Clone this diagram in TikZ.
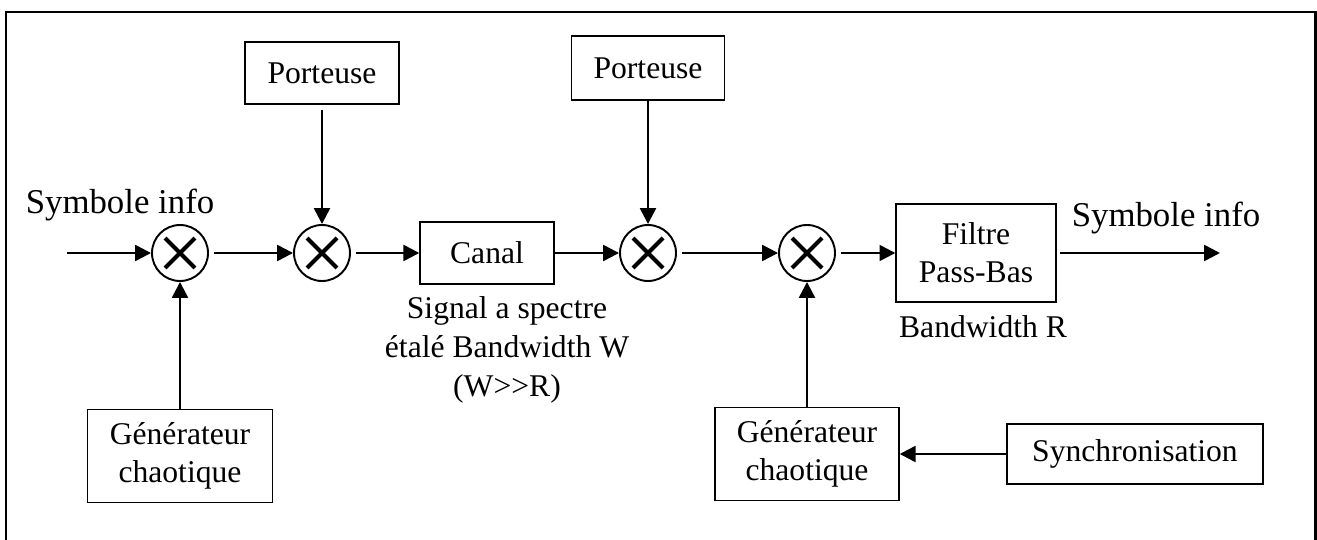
\documentclass[tikz,border=0pt]{standalone}
\usepackage{fontspec}
\setmainfont{Liberation Serif}
\usetikzlibrary{arrows.meta, positioning}

\tikzset{
	blk/.style={draw, line width=0.8pt, inner sep=0pt, align=center,
		font=\fontsize{18}{21.5}\selectfont},
	mult/.style={draw, circle, line width=1.1pt, minimum size=1.12cm, inner sep=0pt,
		path picture={\draw[line width=2.4pt]
			(path picture bounding box.center) ++(-0.3cm,-0.3cm) -- ++(0.6cm,0.6cm)
			(path picture bounding box.center) ++(-0.3cm,0.3cm) -- ++(0.6cm,-0.6cm);}},
	flow/.style={->, line width=1.4pt},
	lbl/.style={align=center, inner sep=0pt, font=\fontsize{18}{22}\selectfont},
	biglbl/.style={inner sep=0pt, font=\fontsize{19.8}{23}\selectfont}
}

\begin{document}
\begin{tikzpicture}[x=0.02cm, y=-0.02cm, >={Triangle[length=9pt, width=9pt]}]
	
	\useasboundingbox (0,0) rectangle (1317,540);
	
	% Outer frame (bottom edge cut off)
	\draw[line width=1.7pt] (6,540) -- (6,12) -- (1315,12) -- (1315,540);
	
	% Emitter side
	\coordinate (in) at (67,253);
	\node[mult] (m1) at (180,253) {};
	\node[mult] (m2) at (322,253) {};
	\node[blk, minimum width=154*0.02cm, minimum height=62*0.02cm] (p1) at (322,73) {Porteuse};
	\node[blk, minimum width=185*0.02cm, minimum height=93*0.02cm] (g1) at (180,456) {Générateur\\chaotique};
	\node[biglbl] (symin) at (120,205) {Symbole info};
	
	% Channel
	\node[blk, minimum width=134*0.02cm, minimum height=62*0.02cm] (canal) at (487,253) {Canal};
	\node[lbl] (signal) at (507,350) {Signal a spectre\\étalé Bandwidth W\\(W>{}>R)};
	
	% Receiver side
	\node[mult] (m3) at (648,253) {};
	\node[blk, minimum width=153*0.02cm, minimum height=64*0.02cm] (p2) at (648,68) {Porteuse};
	\node[mult] (m4) at (807,253) {};
	\node[blk, minimum width=184*0.02cm, minimum height=93*0.02cm] (g2) at (807,454) {Générateur\\chaotique};
	\node[blk, minimum width=256*0.02cm, minimum height=60*0.02cm] (sync) at (1135,454) {Synchronisation};
	\node[blk, minimum width=160*0.02cm, minimum height=98*0.02cm] (filtre) at (976,253) {Filtre\\Pass-Bas};
	\node[lbl] (bwr) at (983,327) {Bandwidth R};
	\node[biglbl] (symout) at (1166,218) {Symbole info};
	\coordinate (out) at (1220,253);
	
	% Connectors
	\draw[flow] (in) -- (m1);
	\draw[flow, shorten <=3pt] (m1) -- (m2);
	\draw[flow, shorten <=3pt] (m2) -- (canal);
	\draw[flow, shorten <=3pt] (p1) -- (m2);
	\draw[flow] (g1) -- (m1);
	\draw[flow] (canal) -- (m3);
	\draw[flow] (p2) -- (m3);
	\draw[flow, shorten <=3pt] (m3) -- (m4);
	\draw[flow] (g2) -- (m4);
	\draw[flow, shorten <=3pt] (m4) -- (filtre);
	\draw[flow, shorten <=2pt] (filtre) -- (out);
	\draw[flow] (sync) -- (g2);
	
\end{tikzpicture}
\end{document}
